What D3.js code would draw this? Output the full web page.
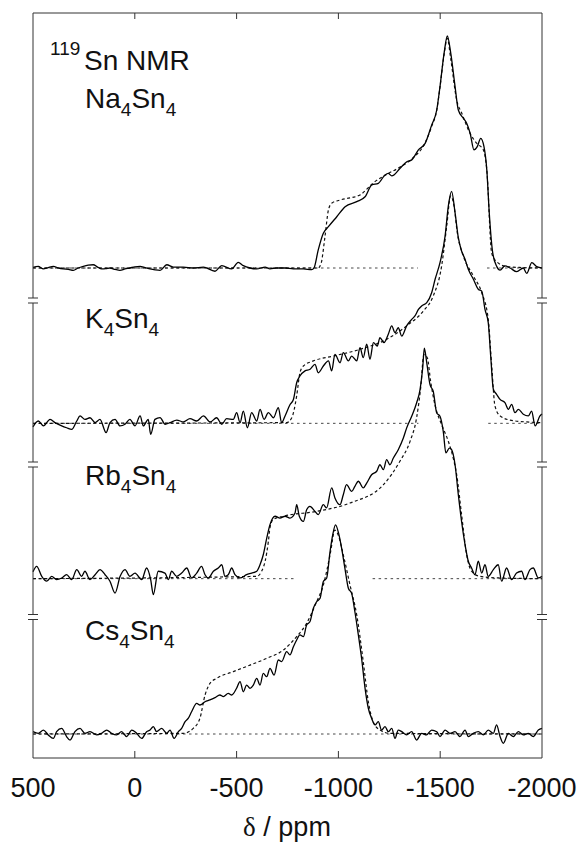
<!DOCTYPE html>
<html>
<head>
<meta charset="utf-8">
<script src="https://cdn.jsdelivr.net/npm/d3@7"></script>
<style>
	body { margin: 0; background: #fff; }
	svg { display: block; }
	text { font-family: "Liberation Sans", Arial, sans-serif; fill: #111; }
</style>
</head>
<body>
<svg id="chart" width="581" height="843"></svg>
<script>
// chemical shift ticks (ppm)
const ppmTicks = [500, 0, -500, -1000, -1500, -2000];

// [ppm, intensity] ; intensity in % of the Na4Sn4 maximum
const naExp = [[500,0.3],[474,0.7],[449,-0.4],[425,0.2],[400,0.7],[375,0],[351,-0.4],[326,-0.6],[302,-1.0],[278,0],[253,0.7],[229,1.2],[204,1.4],[183,0.4],[163,-0.4],[142,-0.3],[122,0],[97,-0.6],[73,-1.0],[48,-0.4],[24,0],[0,0.5],[-26,0.7],[-50,0.2],[-75,-0.4],[-100,-0.8],[-124,-1.0],[-157,1.4],[-189,0.4],[-238,0.4],[-287,0],[-337,0.4],[-394,-1.4],[-427,1.0],[-476,-0.4],[-508,2.4],[-533,1.0],[-566,0],[-599,-0.4],[-640,0.4],[-664,-0.4],[-697,0],[-738,0],[-779,-0.4],[-828,-0.4],[-869,-0.7],[-880,0],[-901,7.8],[-926,15],[-951,17.8],[-992,22.1],[-1033,26.4],[-1090,28.6],[-1131,30.7],[-1164,35.8],[-1196,36.5],[-1229,40.1],[-1245,40.8],[-1262,39.7],[-1303,43],[-1336,45.8],[-1360,46.6],[-1393,50.9],[-1426,53.7],[-1458,61.6],[-1483,68.1],[-1499,78.2],[-1519,92.5],[-1535,100],[-1552,92.5],[-1573,78.2],[-1589,68.1],[-1614,64.5],[-1630,62.4],[-1647,58.1],[-1666,50.9],[-1682,52.3],[-1699,55.9],[-1715,52.3],[-1729,42.2],[-1741,23.7],[-1758,6.5],[-1778,0.6],[-1794,-0.9],[-1818,0.9],[-1843,0],[-1876,-1.6],[-1908,0],[-1925,-2.3],[-1950,2.3],[-1974,0.6],[-2000,0]];
const naFit = [[500,0],[-900,0],[-915,2],[-934,13.5],[-951,25],[-967,27.9],[-1008,29.3],[-1106,31.5],[-1170,36.6],[-1229,40],[-1303,43.5],[-1360,47],[-1426,54],[-1458,61],[-1483,68],[-1499,78],[-1519,92],[-1535,99],[-1552,90],[-1581,72.4],[-1606,66.7],[-1647,58],[-1680,53.7],[-1712,50.9],[-1729,42.2],[-1753,6.3],[-1778,2.7],[-1827,0.6],[-1900,0.2],[-2000,0]];
const naBase = [[500,-1390],[-1730,-2000]];

const kExp = [[500,-1.5],[474,1.0],[449,-1.1],[416,1.7],[392,0.3],[359,-1.1],[335,-1.9],[310,-2.6],[285,1.0],[269,3.2],[245,1.7],[220,2.4],[195,0.3],[171,1.7],[141,-4.0],[122,0.3],[97,1.7],[73,-1.1],[48,-0.4],[24,1.7],[-1,-1.1],[-26,3.2],[-42,-1.1],[-66,1.7],[-78,-4.7],[-99,1.7],[-124,2.5],[-149,-0.4],[-173,0.3],[-206,1.4],[-239,0.6],[-271,2.0],[-304,1.0],[-337,3.2],[-370,0.6],[-402,2.4],[-427,-0.4],[-451,2.0],[-484,1.7],[-500,4.6],[-517,0.3],[-533,5.3],[-553,-1.9],[-574,4.6],[-599,1.0],[-615,6.0],[-635,1.7],[-656,4.6],[-681,2.4],[-705,6.8],[-721,0.3],[-738,3.2],[-762,8],[-779,10.3],[-795,17.5],[-811,20.4],[-836,22.6],[-861,23.3],[-885,25.4],[-901,21.8],[-926,24.7],[-951,26.9],[-967,22.6],[-983,29.7],[-1008,26.1],[-1024,30.5],[-1049,26.9],[-1065,29.0],[-1090,26.9],[-1106,32.6],[-1122,28.3],[-1139,34.1],[-1155,27.6],[-1172,34.8],[-1191,33.3],[-1204,36.9],[-1224,34.8],[-1245,38.4],[-1262,42.0],[-1278,39.1],[-1294,41.2],[-1311,37.6],[-1335,42.0],[-1360,44.8],[-1376,46.3],[-1393,49.1],[-1409,50.6],[-1434,52.0],[-1458,56.3],[-1475,62.1],[-1499,69.3],[-1524,80.7],[-1540,93.7],[-1556,100],[-1573,90.8],[-1589,80.0],[-1605,74.3],[-1622,70.7],[-1638,66.4],[-1663,62.1],[-1687,57.8],[-1704,57.0],[-1720,49.1],[-1736,43.4],[-1748,29.0],[-1761,14.7],[-1777,12.5],[-1794,10.3],[-1818,8.9],[-1835,6.0],[-1851,8.2],[-1867,4.6],[-1884,6.0],[-1908,3.9],[-1933,3.2],[-1949,5.3],[-1966,-1.1],[-1990,3.2],[-2000,4.0]];
const kFit = [[500,0],[-746,0.3],[-771,2.4],[-795,11.8],[-811,21.8],[-828,24.7],[-877,26.9],[-975,29.0],[-1106,31.9],[-1237,36.2],[-1335,42.0],[-1417,48.4],[-1466,54.9],[-1507,67.8],[-1532,85],[-1551,98],[-1568,93.7],[-1584,82.2],[-1614,72.1],[-1663,63.5],[-1704,56.3],[-1736,44.8],[-1753,24.7],[-1769,7.5],[-1794,3.2],[-1843,1.4],[-1924,0.6],[-2000,0.3]];
const kBase = [[500,-1393],[-1736,-2000]];

const rbExp = [[500,3.0],[482,5.3],[457,1.0],[433,-1.1],[408,1.0],[384,-0.4],[359,0.3],[335,1.7],[310,-0.4],[285,3.9],[261,1.0],[245,3.2],[220,-0.4],[195,1.7],[171,3.9],[146,1.7],[122,-1.1],[97,-6.2],[72,1.0],[48,3.9],[24,1.0],[-1,2.4],[-34,-0.4],[-58,4.6],[-78,-0.4],[-91,-6.9],[-115,3.2],[-148,2.4],[-165,-0.4],[-181,3.2],[-206,1.0],[-230,2.4],[-255,4.6],[-279,0.3],[-304,2.4],[-328,5.3],[-345,1.7],[-361,0.3],[-386,3.2],[-410,4.6],[-427,6.0],[-443,1.0],[-459,1.7],[-476,4.6],[-492,1.7],[-517,0.3],[-549,1.7],[-574,2.4],[-599,3.2],[-615,6.0],[-631,10.3],[-648,17.5],[-664,23.3],[-689,26.9],[-713,26.1],[-738,26.9],[-762,26.1],[-787,28.3],[-795,31.9],[-808,26.9],[-828,24.7],[-844,29.7],[-860,31.2],[-885,29.0],[-901,27.6],[-926,31.9],[-942,30.5],[-967,39.1],[-983,34.8],[-1008,31.9],[-1024,36.2],[-1040,40.5],[-1065,37.6],[-1081,39.8],[-1098,42.0],[-1122,39.1],[-1139,41.2],[-1163,44.8],[-1188,46.3],[-1204,49.1],[-1221,47.0],[-1237,51.3],[-1253,49.1],[-1270,52.0],[-1294,55.6],[-1319,60.6],[-1335,64.9],[-1360,70.0],[-1384,75.7],[-1401,81.5],[-1414,90.8],[-1422,99.4],[-1433,93.7],[-1450,83.6],[-1466,80.7],[-1483,71.4],[-1499,70.0],[-1515,63.5],[-1528,54.2],[-1545,56.3],[-1556,55.6],[-1573,49.1],[-1589,36.2],[-1605,24.7],[-1622,14.7],[-1638,7.5],[-1654,4.6],[-1671,1.7],[-1687,7.5],[-1704,2.4],[-1720,6.0],[-1736,1.0],[-1761,3.9],[-1785,6.0],[-1802,-1.1],[-1826,4.6],[-1851,-0.4],[-1875,2.4],[-1900,3.2],[-1916,-0.4],[-1941,3.9],[-1957,4.6],[-1982,0.3],[-2000,1.0]];
const rbFit = [[500,0],[-599,1.0],[-623,3.2],[-640,7.5],[-656,16],[-664,22],[-680,25.5],[-730,26.9],[-893,29],[-1057,32.6],[-1221,40.5],[-1302,50.6],[-1352,59.2],[-1384,69.3],[-1404,82.2],[-1420,96.6],[-1437,95.1],[-1453,85],[-1474,75],[-1507,66.4],[-1540,59.2],[-1564,52],[-1581,44.8],[-1605,27.6],[-1630,10.3],[-1654,3.2],[-1695,1.0],[-1793,0.3],[-2000,0]];
const rbBase = [[500,-790],[-1168,-2000]];

const csExp = [[500,1.0],[474,0.3],[449,1.7],[425,-0.4],[400,-1.9],[384,1.0],[359,2.4],[335,-1.1],[318,-2.6],[294,1.0],[269,2.4],[245,0.3],[220,1.0],[187,-0.4],[163,0.3],[138,1.7],[114,0.3],[89,-0.4],[65,1.0],[40,-1.1],[15,1.7],[-9,0.3],[-34,-1.9],[-58,1.0],[-75,1.7],[-91,3.2],[-107,1.0],[-132,2.4],[-157,0.3],[-173,1.7],[-193,-1.9],[-214,1.0],[-230,2.4],[-247,5.3],[-263,6.8],[-279,9.6],[-304,13.2],[-320,12.5],[-345,13.9],[-369,14.7],[-394,15.7],[-418,16.8],[-435,16.1],[-459,17.5],[-476,16.8],[-500,19.7],[-517,22.6],[-533,18.2],[-549,21.1],[-566,19.7],[-582,21.1],[-599,24.0],[-615,21.1],[-631,26.1],[-648,24.7],[-664,28.3],[-684,25.4],[-705,31.9],[-721,31.2],[-746,35.5],[-762,34.1],[-779,37.6],[-795,40.5],[-811,42.7],[-828,42.0],[-844,47.0],[-860,48.4],[-877,54.2],[-893,57.0],[-910,58.5],[-926,65.7],[-942,67.1],[-959,78.6],[-972,85.8],[-986,90.1],[-999,87.2],[-1016,80.0],[-1032,71.4],[-1049,62.8],[-1065,60.6],[-1081,52.7],[-1098,42.7],[-1114,32.6],[-1131,19.7],[-1147,11.1],[-1163,6.8],[-1180,3.9],[-1196,5.3],[-1212,1.7],[-1229,3.2],[-1245,1.0],[-1262,2.4],[-1278,-1.9],[-1294,1.7],[-1311,1.0],[-1335,-0.4],[-1360,1.0],[-1384,-2.6],[-1409,0.3],[-1433,-0.4],[-1458,1.7],[-1483,1.0],[-1499,-1.1],[-1524,1.7],[-1548,0.3],[-1573,1.0],[-1597,-1.1],[-1622,1.7],[-1638,-1.1],[-1663,0.3],[-1687,1.0],[-1712,-0.4],[-1736,1.7],[-1761,0.3],[-1777,3.9],[-1794,-1.1],[-1810,-4.0],[-1835,0.3],[-1859,-1.1],[-1884,1.0],[-1908,-0.4],[-1933,0.3],[-1957,-1.1],[-1982,1.7],[-2000,2.4]];
const csFit = [[500,0],[-238,0.3],[-287,2.4],[-320,6.8],[-345,16.8],[-369,21.8],[-402,24.0],[-484,26.9],[-566,29.7],[-648,32.6],[-730,36.2],[-795,42.0],[-844,47.7],[-893,57],[-926,64.2],[-959,77.2],[-983,87.9],[-999,85.8],[-1024,77.2],[-1057,64.2],[-1090,51.3],[-1122,31.2],[-1147,13.9],[-1171,5.3],[-1204,1.7],[-1253,0.3],[-2000,0]];
const csBase = [[500,-2000]];

const spectra = [
	{ cation: "Na", exp: naExp, fit: naFit, base: naBase },
	{ cation: "K", exp: kExp, fit: kFit, base: kBase },
	{ cation: "Rb", exp: rbExp, fit: rbFit, base: rbBase },
	{ cation: "Cs", exp: csExp, fit: csFit, base: csBase },
];

// layout
const mLeft = 33, mRight = 542, mTop = 13, mBottom = 758;
const peakPx = 232;
const breakY = [300.5, 464.5, 617];
const labelY = [108, 328, 485, 640];

const svg = d3.select("#chart");

const x = d3.scaleLinear().domain([500, -2000]).range([mLeft, mRight]);
const stack = d3.scaleLinear().domain([0, 3]).range([268, 734]);

const g_spectra = svg.append("g").attr("class", "spectra");

spectra.forEach((s, i) => {
	const base = stack(i);
	const y = d3.scaleLinear().domain([0, 100]).range([base, base - peakPx]);
	const line = d3
		.line()
		.x((d) => x(d[0]))
		.y((d) => y(d[1]))
		.curve(d3.curveMonotoneX);

	const g = g_spectra.append("g").attr("class", "spectrum " + s.cation);

	g.selectAll(".baseline")
		.data(s.base)
		.join("line")
		.attr("class", "baseline")
		.attr("x1", (d) => x(d[0]))
		.attr("x2", (d) => x(d[1]))
		.attr("y1", y(0))
		.attr("y2", y(0))
		.attr("stroke", "#333")
		.attr("stroke-width", 0.9)
		.attr("stroke-dasharray", "2.5,3.5");

	g.append("path")
		.attr("class", "fit")
		.attr("d", line(s.fit))
		.attr("fill", "none")
		.attr("stroke", "#111")
		.attr("stroke-width", 1.2)
		.attr("stroke-dasharray", "3,2.5");

	g.append("path")
		.attr("class", "exp")
		.attr("d", line(s.exp))
		.attr("fill", "none")
		.attr("stroke", "#000")
		.attr("stroke-width", 1.3)
		.attr("stroke-linejoin", "round");

	// compound label M4Sn4
	const t = svg.append("text")
		.attr("x", 85)
		.attr("y", labelY[i])
		.attr("font-size", 28);
	t.append("tspan").text(s.cation);
	t.append("tspan").attr("font-size", 19).attr("dy", 8).text("4");
	t.append("tspan").attr("dy", -8).text("Sn");
	t.append("tspan").attr("font-size", 19).attr("dy", 8).text("4");
});

// header
svg.append("text").attr("x", 50).attr("y", 55).attr("font-size", 19).text("119");
svg.append("text").attr("x", 84).attr("y", 70).attr("font-size", 28).text("Sn NMR");

// frame
const frame = svg.append("g").attr("class", "frame").attr("stroke", "#333").attr("stroke-width", 1).attr("fill", "none");
frame.append("line").attr("x1", mLeft).attr("x2", mRight).attr("y1", mTop).attr("y2", mTop);
frame.append("line").attr("x1", mLeft).attr("x2", mRight).attr("y1", mBottom).attr("y2", mBottom);

const segs = [];
let y0 = mTop;
breakY.forEach((b) => {
	segs.push([y0, b - 2.5]);
	y0 = b + 2.5;
});
segs.push([y0, mBottom]);

[mLeft, mRight].forEach((xx) => {
	frame.selectAll(null)
		.data(segs)
		.join("line")
		.attr("x1", xx)
		.attr("x2", xx)
		.attr("y1", (d) => d[0])
		.attr("y2", (d) => d[1]);
	frame.selectAll(null)
		.data(breakY.flatMap((b) => [b - 2.5, b + 2.5]))
		.join("line")
		.attr("x1", xx - 5)
		.attr("x2", xx + 5)
		.attr("y1", (d) => d)
		.attr("y2", (d) => d);
});

const inner = ppmTicks.slice(1, -1);
frame.selectAll(null)
	.data(inner)
	.join("line")
	.attr("x1", (d) => x(d))
	.attr("x2", (d) => x(d))
	.attr("y1", mTop)
	.attr("y2", mTop + 6);
frame.selectAll(null)
	.data(inner)
	.join("line")
	.attr("x1", (d) => x(d))
	.attr("x2", (d) => x(d))
	.attr("y1", mBottom)
	.attr("y2", mBottom - 7);

svg.append("g")
	.selectAll("text")
	.data(ppmTicks)
	.join("text")
	.attr("x", (d) => x(d))
	.attr("y", 797)
	.attr("text-anchor", "middle")
	.attr("font-size", 27)
	.text((d) => String(d));

const title = svg.append("text")
	.attr("x", 287)
	.attr("y", 836)
	.attr("text-anchor", "middle")
	.attr("font-size", 27);
title.append("tspan").attr("font-family", "'Liberation Serif', 'DejaVu Serif', serif").text("δ");
title.append("tspan").text(" / ppm");
</script>
</body>
</html>
